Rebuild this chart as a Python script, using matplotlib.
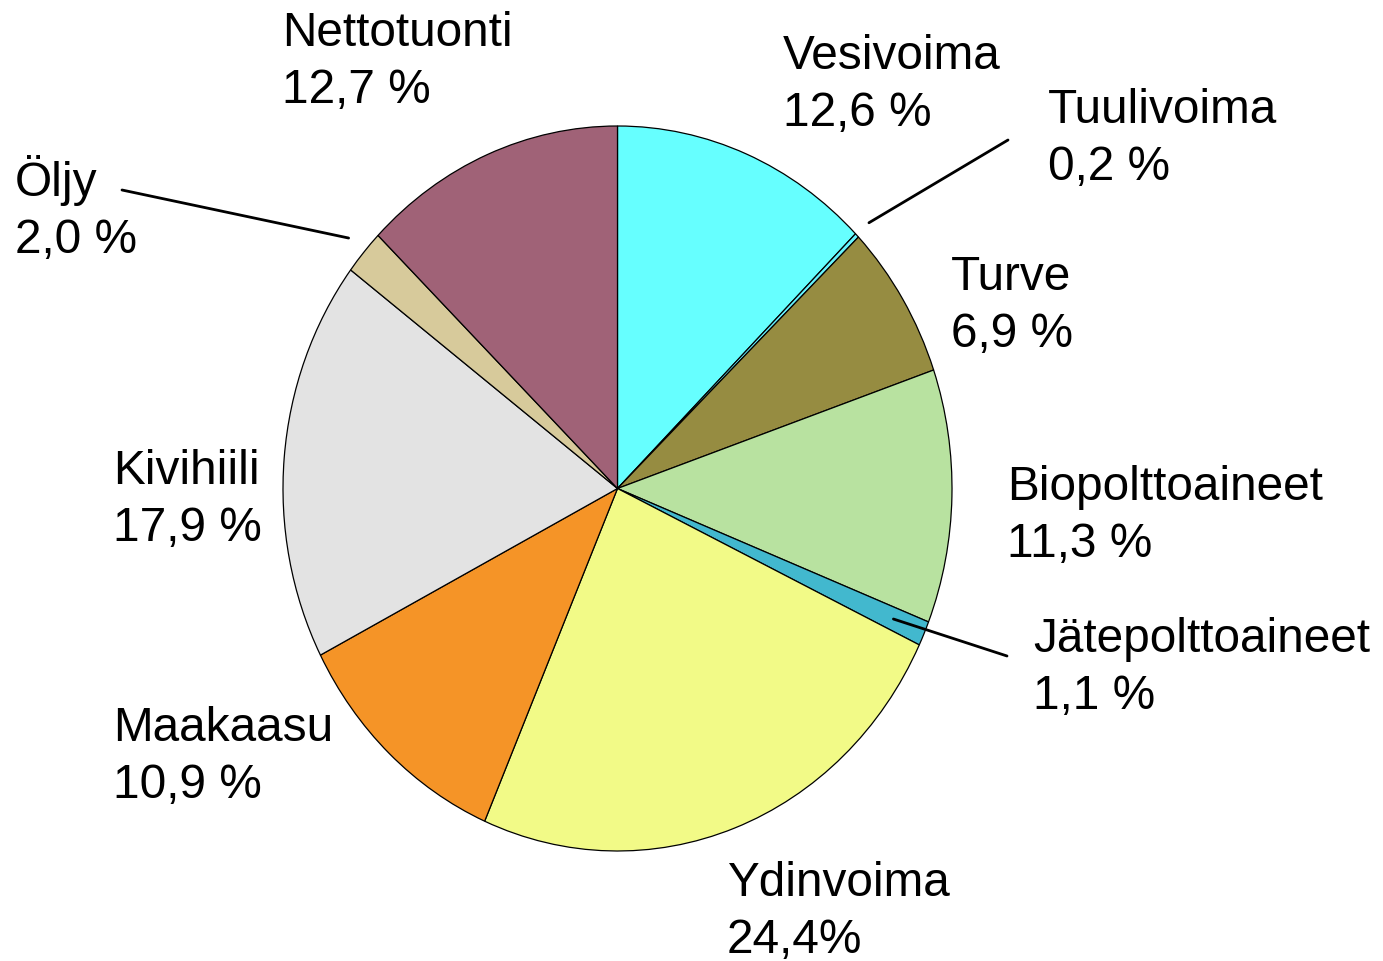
import numpy as np
import matplotlib
matplotlib.use('Agg')
import matplotlib.pyplot as plt

W, H = 1383, 961

labels = ['Vesivoima', 'Tuulivoima', 'Turve', 'Biopolttoaineet', 'Jätepolttoaineet',
          'Ydinvoima', 'Maakaasu', 'Kivihiili', 'Öljy', 'Nettotuonti']
shares = [12.6, 0.2, 6.9, 11.3, 1.1, 24.4, 10.9, 17.9, 2.0, 12.7]
pct_text = ['12,6 %', '0,2 %', '6,9 %', '11,3 %', '1,1 %',
            '24,4%', '10,9 %', '17,9 %', '2,0 %', '12,7 %']
colors = ['#66FFFF', '#66F4FF', '#968C41', '#B8E2A0', '#42B8CE',
          '#F2FA87', '#F59427', '#E3E3E3', '#D7CA9B', '#A06277']

# label anchor: left x and first-line baseline, in pixels
label_pos = {
    'Vesivoima': (783, 68),
    'Tuulivoima': (1048, 122),
    'Turve': (951, 289),
    'Biopolttoaineet': (1007, 499),
    'Jätepolttoaineet': (1033, 651),
    'Ydinvoima': (727, 895),
    'Maakaasu': (113, 740),
    'Kivihiili': (113, 483),
    'Öljy': (15, 195),
    'Nettotuonti': (282, 45),
}
line_step = 58  # px between the two lines of a label
# leader lines: start pixel, radius of end point on wedge
leaders = {
    'Tuulivoima': ((1008, 140), 1.05),
    'Jätepolttoaineet': ((1007, 656), 0.9),
    'Öljy': ((122, 190), 1.06),
}

plt.rcParams['font.family'] = ['Liberation Sans', 'DejaVu Sans']

fig = plt.figure(figsize=(W / 100, H / 100), dpi=100)
# pie is slightly taller than wide in the original
left, right, top, bottom = 283, 952, 126, 851
ax = fig.add_axes([left / W, 1 - bottom / H, (right - left) / W, (bottom - top) / H])

wedges, _ = ax.pie(shares, colors=colors, startangle=90, counterclock=False,
                   wedgeprops=dict(edgecolor='black', linewidth=0.9))
ax.set_aspect('auto')
ax.set_xlim(-1, 1)
ax.set_ylim(-1, 1)
ax.axis('off')

for name, pct in zip(labels, pct_text):
    px, py = label_pos[name]
    # baseline alignment goes to the last line
    fig.text(px / W, 1 - (py + line_step) / H, name + '\n' + pct, fontsize=34.4,
             ha='left', va='baseline', linespacing=1.336)

for w, name in zip(wedges, labels):
    if name in leaders:
        (sx, sy), r = leaders[name]
        ang = np.deg2rad((w.theta1 + w.theta2) / 2)
        ax.annotate('', xy=(r * np.cos(ang), r * np.sin(ang)), xycoords='data',
                    xytext=(sx / W, 1 - sy / H), textcoords='figure fraction',
                    arrowprops=dict(arrowstyle='-', color='black', lw=2,
                                    shrinkA=0, shrinkB=0),
                    annotation_clip=False)

fig.savefig('out.png', dpi=100)
